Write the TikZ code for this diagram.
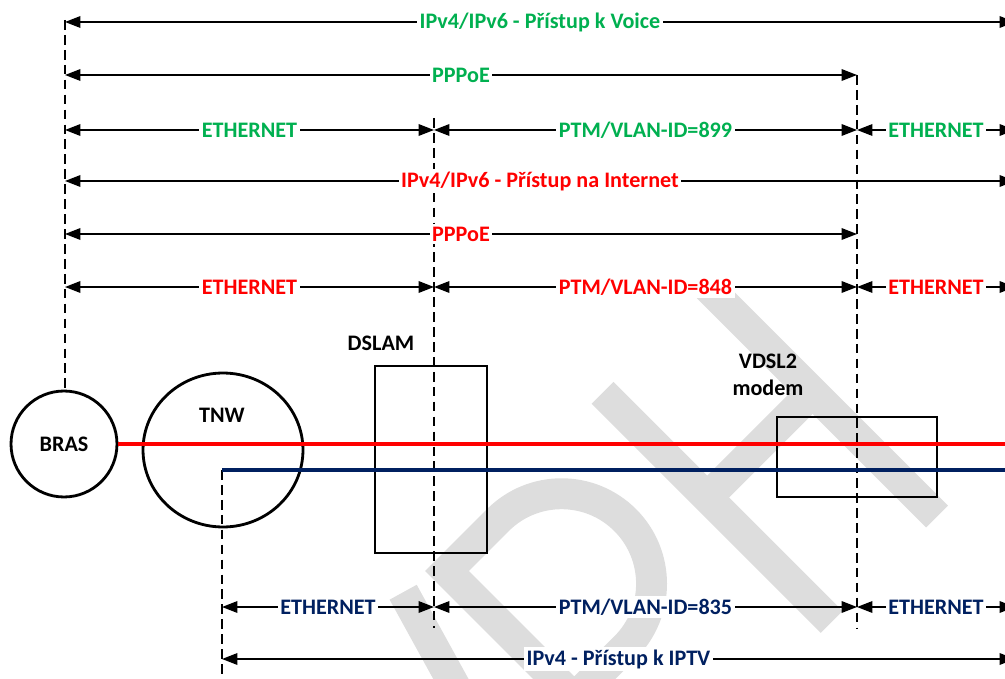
\documentclass[tikz,border=0pt]{standalone}
\usepackage{fontspec}
\setmainfont{Carlito}
\usetikzlibrary{arrows.meta,positioning,shapes.geometric}
\definecolor{voicegreen}{HTML}{00B050}
\definecolor{netred}{HTML}{FF0000}
\definecolor{tvblue}{HTML}{002060}
\definecolor{wmgray}{HTML}{DDDDDD}

\begin{document}
\begin{tikzpicture}[x=0.02cm, y=-0.02cm,
  every node/.style={font=\fontsize{12.6}{15.5}\selectfont\bfseries},
  dim/.style={{Triangle[length=8.8pt,width=6.6pt]}-{Triangle[length=8.8pt,width=6.6pt]},
              line width=0.9pt},
  lbl/.style={fill=white, inner sep=1.5pt},
  guide/.style={dash pattern=on 5.5pt off 3pt, line width=0.7pt},
  dev/.style={draw, line width=1.6pt, inner sep=0pt},
  wmstroke/.style={draw=wmgray, line width=17.6pt},
  netline/.style={netred, line width=1.9pt},
  tvline/.style={tvblue, line width=1.9pt}
]
  \useasboundingbox (0,0) rectangle (1005,679);
  \clip (0,0) rectangle (1005,679);

  % watermark
  \begin{scope}[shift={(447,571)}, x={(0.014142cm,0.014142cm)},
                y={(0.014142cm,-0.014142cm)}]
    \draw[wmstroke] (-46,-16) -- (-140,308);
    \draw[wmstroke, line join=miter] (0,308) -- (0,0) -- (72,0)
      arc[start angle=-90, end angle=90, radius=90] -- (0,180);
    \draw[wmstroke] (236,-16) -- (236,308);
    \draw[wmstroke] (385,-16) -- (385,308);
    \draw[wmstroke] (236,132) -- (385,132);
  \end{scope}

  % devices
  \node[circle, dev, minimum size=2.12cm] (bras) at (64,444) {BRAS};
  \node[ellipse, dev, minimum width=3.2cm, minimum height=3.08cm] (tnw)
    at (223,450) {};
  \node (tnwtxt) at (222,415) {TNW};
  \node[rectangle, dev, minimum width=2.24cm, minimum height=3.74cm] (dslam)
    at (431,459.5) {};
  \node (dslamtxt) at (381,343) {DSLAM};
  \node[rectangle, dev, minimum width=3.2cm, minimum height=1.6cm] (modem)
    at (857,457) {};
  \node[align=center] (modemtxt) at (768,375) {VDSL2\\modem};

  % guide lines
  \coordinate (v1l) at (65,22);
  \coordinate (v1r) at (1015,22);
  \coordinate (v2l) at (65,75);
  \coordinate (v2r) at (857,75);
  \coordinate (gatop) at (65,20);
  \coordinate (gabot) at (65,388);
  \coordinate (gbtop) at (434,118);
  \coordinate (gbbot) at (434,628);
  \coordinate (gcbot) at (857,628);
  \coordinate (tvstart) at (222,470);
  \coordinate (tvend) at (1010,470);
  \coordinate (gdbot) at (222,690);
  \coordinate (netend) at (1010,444);
  \draw[guide] (gatop) -- (gabot);
  \draw[guide] (gbtop) -- (gbbot);
  \draw[guide] (v2r) -- (gcbot);
  \draw[guide] (tvstart) -- (gdbot);

  % voice
  \draw[dim] (v1l) -- node[lbl, text=voicegreen] {IPv4/IPv6 - Přístup k Voice} (v1r);
  \draw[dim] (v2l) -- node[lbl, text=voicegreen] {PPPoE} (v2r);
  \coordinate (v3a) at (65,130);
  \coordinate (v3b) at (434,130);
  \coordinate (v3c) at (857,130);
  \coordinate (v3d) at (1015,130);
  \draw[dim] (v3a) -- node[lbl, text=voicegreen] {ETHERNET} (v3b);
  \draw[dim] (v3b) -- node[lbl, text=voicegreen] {PTM/VLAN-ID=899} (v3c);
  \draw[dim] (v3c) -- node[lbl, text=voicegreen] {ETHERNET} (v3d);

  % internet
  \coordinate (n1l) at (65,181);
  \coordinate (n1r) at (1015,181);
  \coordinate (n2l) at (65,234);
  \coordinate (n2r) at (857,234);
  \draw[dim] (n1l) -- node[lbl, text=netred] {IPv4/IPv6 - Přístup na Internet} (n1r);
  \draw[dim] (n2l) -- node[lbl, text=netred] {PPPoE} (n2r);
  \coordinate (n3a) at (65,287);
  \coordinate (n3b) at (434,287);
  \coordinate (n3c) at (857,287);
  \coordinate (n3d) at (1015,287);
  \draw[dim] (n3a) -- node[lbl, text=netred] {ETHERNET} (n3b);
  \draw[dim] (n3b) -- node[lbl, text=netred] {PTM/VLAN-ID=848} (n3c);
  \draw[dim] (n3c) -- node[lbl, text=netred] {ETHERNET} (n3d);

  % iptv
  \coordinate (t1a) at (222,607);
  \coordinate (t1b) at (434,607);
  \coordinate (t1c) at (857,607);
  \coordinate (t1d) at (1015,607);
  \draw[dim] (t1a) -- node[lbl, text=tvblue] {ETHERNET} (t1b);
  \draw[dim] (t1b) -- node[lbl, text=tvblue] {PTM/VLAN-ID=835} (t1c);
  \draw[dim] (t1c) -- node[lbl, text=tvblue] {ETHERNET} (t1d);
  \coordinate (t2l) at (222,659);
  \coordinate (t2r) at (1015,659);
  \draw[dim] (t2l) -- node[lbl, text=tvblue] {IPv4 - Přístup k IPTV} (t2r);

  % signal lines
  \draw[netline] (bras.east) -- (netend);
  \draw[tvline] (tvstart) -- (tvend);
\end{tikzpicture}
\end{document}
